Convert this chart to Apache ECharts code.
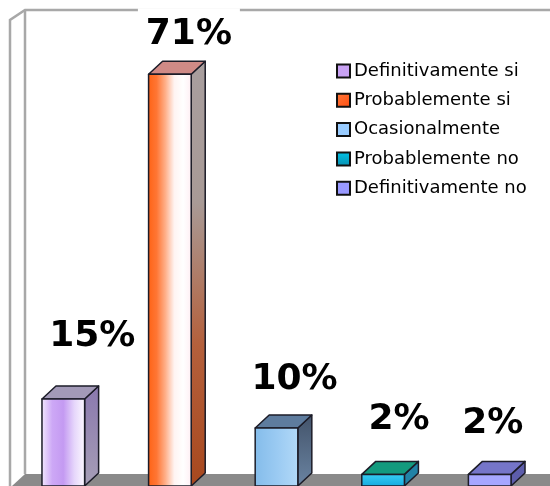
<!DOCTYPE html>
<html>
<head>
<meta charset="utf-8">
<script src="https://cdn.jsdelivr.net/npm/echarts@6/dist/echarts.min.js"></script>
<style>
  html, body { margin: 0; padding: 0; background: #fff; }
  #chart { width: 550px; height: 486px; }
</style>
</head>
<body>
<div id="chart"></div>
<script>
// Survey answers and their shares (percent)
const categories = ['Definitivamente si', 'Probablemente si', 'Ocasionalmente', 'Probablemente no', 'Definitivamente no'];
const shares = [15, 71, 10, 2, 2];
const shareLabels = ['15%', '71%', '10%', '2%', '2%'];

const G = echarts.graphic;
const lin = (x0, y0, x1, y1, stops) =>
  new G.LinearGradient(x0, y0, x1, y1, stops.map((c, i) => ({ offset: i / (stops.length - 1), color: c })));

// Face shading for each box: front, side, top, legend swatch
const palettes = [
  { front: lin(0, 0, 1, 0, ['#f3eafd', '#cda8f6', '#c49af2', '#e6d6fb', '#fdfaff']), side: lin(0, 0, 0, 1, ['#8a78ae', '#a69eb6']), top: '#a39ab8', swatch: '#c9a2f4' },
  { front: lin(0, 0, 1, 0, ['#ff6214', '#ff7634', '#ffb08a', '#fff4f2', '#ffffff', '#ffeef3']), side: lin(0, 0, 0, 1, ['#a89e9e', '#a89a96', '#b4603c', '#a8481e']), top: '#cf8a86', swatch: lin(0, 0, 1, 1, ['#ff7a3a', '#ff4c10']) },
  { front: lin(0, 0, 1, 0, ['#84bcea', '#9acaf2', '#b2d9f8']), side: lin(0, 0, 0, 1, ['#43536a', '#6a84a2']), top: '#5e7c9e', swatch: '#99ccff' },
  { front: lin(0, 0, 0, 1, ['#38cff3', '#14a9df']), side: '#2282a6', top: '#139a7e', swatch: lin(0, 0, 0, 1, ['#00c4e8', '#0a8fb0']) },
  { front: '#a6a6ff', side: '#5d5dab', top: '#7575c9', swatch: '#9999ff' }
];

// Where each percentage sits relative to its box's front top edge
const labelShift = [[29, -62], [19, -40], [18, -48], [16, -55], [3, -51]];

const DX = 14, DY = 13;

function makeRender(k) {
  return function (params, api) {
    const idx = api.value(0);
    const v = api.value(1);
    const topPt = api.coord([idx, v]);
    const basePt = api.coord([idx, 0]);
    const bw = api.size([1, 0])[0] * 0.4;
    const x0 = topPt[0] - bw / 2, x1 = topPt[0] + bw / 2;
    const y0 = topPt[1], yb = basePt[1];
    const p = palettes[k];
    const edge = { stroke: '#1c1c28', lineWidth: 1.5, lineJoin: 'round' };
    const lx = topPt[0] + labelShift[k][0];
    const ly = y0 + labelShift[k][1];
    return {
      type: 'group',
      children: [
        { type: 'polygon', shape: { points: [[x1, y0], [x1 + DX, y0 - DY], [x1 + DX, yb - DY], [x1, yb]] },
          style: Object.assign({ fill: p.side }, edge) },
        { type: 'polygon', shape: { points: [[x0, y0], [x0 + DX, y0 - DY], [x1 + DX, y0 - DY], [x1, y0]] },
          style: Object.assign({ fill: p.top }, edge) },
        { type: 'rect', shape: { x: x0, y: y0, width: bw, height: yb - y0 },
          style: Object.assign({ fill: p.front }, edge) },
        // white box behind the label (it cuts through the back wall edge)
        { type: 'rect', z2: 9, shape: { x: lx - 51, y: ly - 26, width: 102, height: 46 },
          style: { fill: '#fff' } },
        { type: 'text', z2: 10,
          style: {
            text: shareLabels[idx], x: lx, y: ly,
            align: 'center', verticalAlign: 'middle',
            font: 'bold 36px "DejaVu Sans", Verdana, sans-serif', fill: '#000'
          } }
      ]
    };
  };
}

const chart = echarts.init(document.getElementById('chart'), null, { renderer: 'canvas' });

const wallColor = '#a8a8a8';
const option = {
  animation: false,
  backgroundColor: '#fff',
  grid: { left: 10, right: 7, top: 22, bottom: -2, containLabel: false },
  xAxis: { type: 'category', data: categories, show: false },
  yAxis: { type: 'value', min: 0, max: 80, show: false },
  legend: {
    orient: 'vertical', left: 336, top: 62, padding: 0,
    icon: 'rect', itemWidth: 13, itemHeight: 13, itemGap: 11.3,
    textStyle: { fontFamily: '"DejaVu Sans", Verdana, sans-serif', fontSize: 18, color: '#000', lineHeight: 18, padding: [0, 0, 0, -1] },
    itemStyle: { borderColor: '#111', borderWidth: 2 },
    data: categories
  },
  graphic: [
    // floor
    { type: 'polygon', z: -10, shape: { points: [[25, 474], [550, 474], [550, 486], [12, 486]] }, style: { fill: '#8a8a8a' } },
    // left wall and back wall edge
    { type: 'polyline', z: -10, shape: { points: [[10, 486], [10, 20], [25, 10], [550, 10]] }, style: { stroke: wallColor, lineWidth: 2.5, fill: null } },
    { type: 'line', z: -10, shape: { x1: 25, y1: 10, x2: 25, y2: 474 }, style: { stroke: wallColor, lineWidth: 2.5 } }
  ],
  series: categories.map((name, k) => ({
    name: name,
    type: 'custom',
    renderItem: makeRender(k),
    itemStyle: { color: palettes[k].swatch },
    encode: { x: 0, y: 1 },
    data: [[k, shares[k]]]
  }))
};

chart.setOption(option);
</script>
</body>
</html>
